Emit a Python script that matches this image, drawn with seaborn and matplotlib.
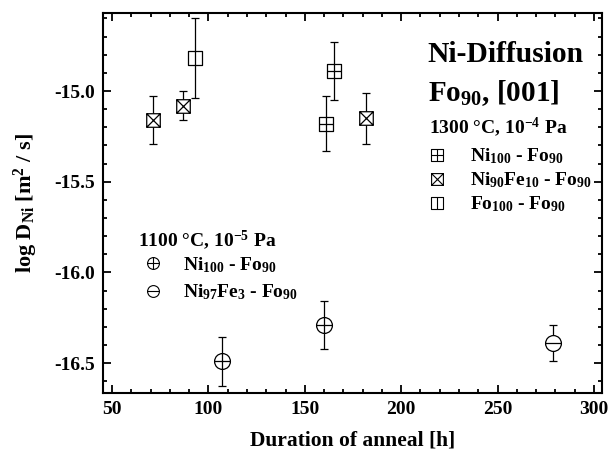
import matplotlib
matplotlib.use("Agg")
import numpy as np
import pandas as pd
import seaborn as sns
import matplotlib.pyplot as plt
from matplotlib.path import Path
from matplotlib.markers import MarkerStyle
from matplotlib.lines import Line2D
from matplotlib.ticker import MultipleLocator

# --- 1300 °C, 1e-4 Pa ---
ni100_hot_t = [161, 165]
ni100_hot_logD = [-15.18, -14.89]
ni100_hot_err = [0.15, 0.16]

ni90fe10_t = [71, 87, 182]
ni90fe10_logD = [-15.16, -15.08, -15.15]
ni90fe10_err = [0.13, 0.08, 0.14]

fo100_t = [93]
fo100_logD = [-14.82]
fo100_err = [0.22]

# --- 1100 °C, 1e-5 Pa ---
ni100_cold_t = [107, 160]
ni100_cold_logD = [-16.49, -16.29]
ni100_cold_err = [0.135, 0.13]

ni97fe3_t = [279]
ni97fe3_logD = [-16.39]
ni97fe3_err = [0.10]

x_ticks = [50, 100, 150, 200, 250, 300]
y_ticks = [-16.5, -16.0, -15.5, -15.0]

sns.set_theme(style="ticks")
plt.rcParams.update({
    "font.family": ["Liberation Serif", "DejaVu Serif"],
    "font.weight": "bold",
    "mathtext.fontset": "custom",
    "mathtext.rm": "Liberation Serif:bold",
    "mathtext.it": "Liberation Serif:bold",
    "mathtext.bf": "Liberation Serif:bold",
    "mathtext.sf": "Liberation Serif:bold",
    "axes.unicode_minus": False,
    "axes.linewidth": 1.5,
    "axes.edgecolor": "black",
    "text.color": "black",
    "axes.labelcolor": "black",
    "xtick.color": "black",
    "ytick.color": "black",
})

# marker shapes built from a square / circle plus inner strokes
M, L, C = Path.MOVETO, Path.LINETO, Path.CLOSEPOLY
square = Path([(-1, -1), (1, -1), (1, 1), (-1, 1), (-1, -1)], [M, L, L, L, C])
hline = Path([(-1, 0), (1, 0)], [M, L])
vline = Path([(0, -1), (0, 1)], [M, L])
diag1 = Path([(-1, -1), (1, 1)], [M, L])
diag2 = Path([(-1, 1), (1, -1)], [M, L])
circle = Path.unit_circle()

sq_plus = MarkerStyle(Path.make_compound_path(square, hline, vline))
sq_cross = MarkerStyle(Path.make_compound_path(square, diag1, diag2))
sq_bar = MarkerStyle(Path.make_compound_path(square, vline))
ci_plus = MarkerStyle(Path.make_compound_path(circle, hline, vline))
ci_minus = MarkerStyle(Path.make_compound_path(circle, hline))

series = [
    ("Ni$_{100}$ - Fo$_{90}$", ni100_hot_t, ni100_hot_logD, ni100_hot_err, sq_plus, 95),
    ("Ni$_{90}$Fe$_{10}$ - Fo$_{90}$", ni90fe10_t, ni90fe10_logD, ni90fe10_err, sq_cross, 95),
    ("Fo$_{100}$ - Fo$_{90}$", fo100_t, fo100_logD, fo100_err, sq_bar, 95),
    ("Ni$_{100}$ - Fo$_{90}$", ni100_cold_t, ni100_cold_logD, ni100_cold_err, ci_plus, 130),
    ("Ni$_{97}$Fe$_{3}$ - Fo$_{90}$", ni97fe3_t, ni97fe3_logD, ni97fe3_err, ci_minus, 130),
]

fig = plt.figure(figsize=(6.12, 4.58), dpi=100)
ax = fig.add_axes([0.1683, 0.1419, 0.8154, 0.8297])

for name, t, d, e, mk, s in series:
    df = pd.DataFrame({"t": t, "logD": d})
    ax.errorbar(t, d, yerr=e, fmt="none", ecolor="black", elinewidth=0.9,
                capsize=3, capthick=0.9, zorder=2)
    sns.scatterplot(data=df, x="t", y="logD", marker=mk, s=s, color="white",
                    edgecolor="black", linewidth=0.9, ax=ax, zorder=3, legend=False)

ax.set_xlim(45.3, 304.2)
ax.set_ylim(-16.665, -14.57)
ax.set_xticks(x_ticks)
ax.set_yticks(y_ticks)
ax.xaxis.set_minor_locator(MultipleLocator(10))
ax.yaxis.set_minor_locator(MultipleLocator(0.1))
ax.set_xticklabels([str(v) for v in x_ticks])
ax.set_yticklabels([f"{v:.1f}" for v in y_ticks])
ax.tick_params(which="both", direction="in", top=True, right=True, width=1.3,
               labelsize=14)
ax.tick_params(which="major", length=5.5, pad=6)
ax.tick_params(which="minor", length=3)
for lab in ax.get_xticklabels() + ax.get_yticklabels():
    lab.set_fontweight("bold")

ax.set_xlabel("Duration of anneal [h]", fontsize=15.5, fontweight="bold", labelpad=9)
ax.set_ylabel("log D$_{\\mathrm{Ni}}$ [m$^{2}$ / s]", fontsize=16,
              fontweight="bold", labelpad=10)

ax.text(0.651, 0.872, "Ni-Diffusion", transform=ax.transAxes, fontsize=21.3,
        fontweight="bold", va="baseline", ha="left")
ax.text(0.651, 0.768, "Fo$_{90}$, [001]", transform=ax.transAxes, fontsize=21,
        fontweight="bold", va="baseline", ha="left")

# group headings
ax.text(0.653, 0.684, "1300 °C, 10$^{-4}$ Pa", transform=ax.transAxes,
        fontsize=14, fontweight="bold", va="baseline", ha="left")
ax.text(0.0701, 0.385, "1100 °C, 10$^{-5}$ Pa", transform=ax.transAxes,
        fontsize=14, fontweight="bold", va="baseline", ha="left")


def make_handle(mk, ms):
    return Line2D([], [], marker=mk, ms=ms, mfc="white", mec="black", mew=0.8,
                  ls="none")


hot_handles = [make_handle(sq_plus, 8.5), make_handle(sq_cross, 8.5),
               make_handle(sq_bar, 8.5)]
hot_labels = [series[0][0], series[1][0], series[2][0]]
leg1 = ax.legend(hot_handles, hot_labels,
                 loc="upper left", bbox_to_anchor=(0.653, 0.648), frameon=False,
                 borderpad=0, borderaxespad=0, handlelength=0.8, handletextpad=1.3,
                 labelspacing=0.22, prop={"size": 14, "weight": "bold"})
ax.add_artist(leg1)

cold_handles = [make_handle(ci_plus, 8.5), make_handle(ci_minus, 8.5)]
cold_labels = [series[3][0], series[4][0]]
ax.legend(cold_handles, cold_labels,
          loc="upper left", bbox_to_anchor=(0.0701, 0.363), frameon=False,
          borderpad=0, borderaxespad=0, handlelength=1.5, handletextpad=0.8,
          labelspacing=0.4, prop={"size": 14, "weight": "bold"})

fig.savefig("out.png", dpi=100)
